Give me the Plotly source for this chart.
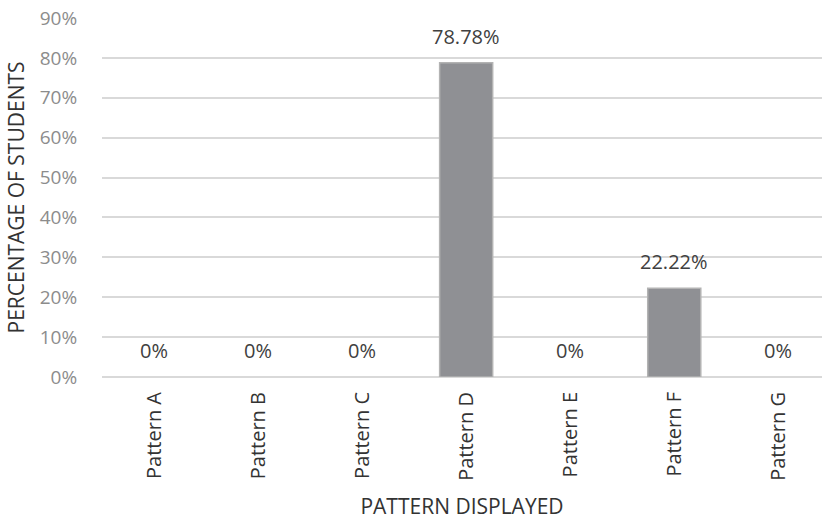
import plotly.graph_objects as go

categories = ["Pattern A", "Pattern B", "Pattern C", "Pattern D", "Pattern E", "Pattern F", "Pattern G"]
percentages = [0, 0, 0, 78.78, 0, 22.22, 0]
value_labels = ["0%", "0%", "0%", "78.78%", "0%", "22.22%", "0%"]
y_ticks = [0, 10, 20, 30, 40, 50, 60, 70, 80, 90]

font_family = "Open Sans, Noto Sans, sans-serif"

# outline only the bars that actually have height
outline_widths = [1.5 if v > 0 else 0 for v in percentages]

fig = go.Figure(
    go.Bar(
        x=categories,
        y=percentages,
        width=0.51,
        marker=dict(color="#8f9094", line=dict(color="#b3b3b3", width=outline_widths)),
        hoverinfo="x+y",
    )
)

# value labels above each bar
for cat, val, lab in zip(categories, percentages, value_labels):
    fig.add_annotation(
        x=cat, y=val, text=lab, showarrow=False,
        yanchor="bottom", yshift=11,
        font=dict(family=font_family, size=20, color="#404040"),
    )

fig.update_layout(
    width=822,
    height=520,
    margin=dict(l=102, r=0, t=18, b=143),
    plot_bgcolor="white",
    paper_bgcolor="white",
    showlegend=False,
    font=dict(family=font_family),
    xaxis=dict(
        range=[-0.5, 6.42],
        tickangle=-90,
        tickfont=dict(size=20, color="#333333"),
        ticks="outside",
        ticklen=6,
        tickcolor="rgba(0,0,0,0)",
        showline=False,
        showgrid=False,
        title=dict(text="PATTERN DISPLAYED", font=dict(size=21, color="#333333"), standoff=20),
        automargin=False,
    ),
    yaxis=dict(
        range=[0, 90],
        tickvals=y_ticks,
        ticktext=[f"{v}%" for v in y_ticks],
        tickfont=dict(size=19, color="#8c8c8c"),
        gridcolor="#d9d9d9",
        gridwidth=1.5,
        zeroline=True,
        zerolinecolor="#d9d9d9",
        zerolinewidth=1.5,
        ticks="outside",
        ticklen=20,
        tickcolor="rgba(0,0,0,0)",
        title=dict(text="PERCENTAGE OF STUDENTS", font=dict(size=21, color="#333333"), standoff=9),
        automargin=False,
    ),
)

fig.write_html("out.html")
